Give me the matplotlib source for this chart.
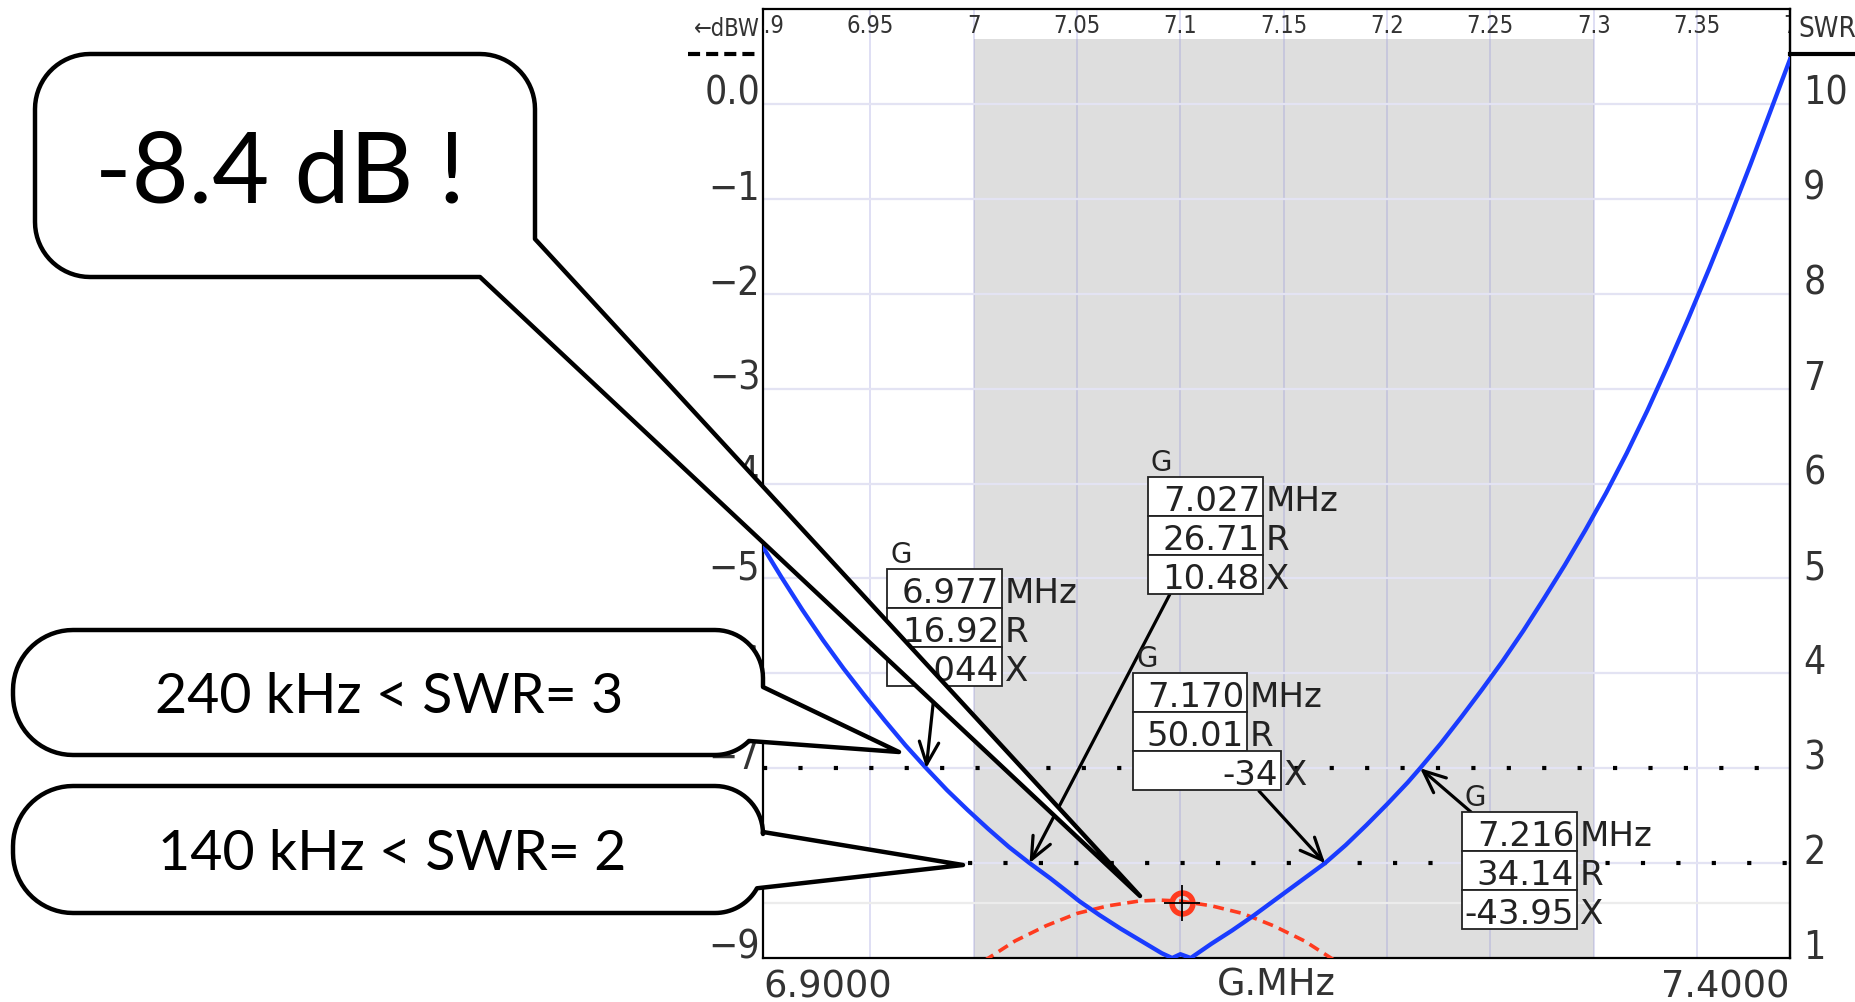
import matplotlib
matplotlib.use("Agg")
import matplotlib.pyplot as plt
import matplotlib.transforms as mtransforms
from matplotlib.patches import Polygon, Rectangle
from matplotlib.lines import Line2D
import numpy as np

W, H = 1855, 1003

plt.rcParams["font.family"] = ["DejaVu Sans"]
plt.rcParams["font.stretch"] = "condensed"   # used when a condensed cut is installed

# ── Data ────────────────────────────────────────────────────────────────────
# SWR curve (right axis)
swr_freq = [6.898, 6.907, 6.917, 6.927, 6.937, 6.947, 6.957, 6.967, 6.977, 6.987,
            6.997, 7.007, 7.017, 7.027, 7.037, 7.047, 7.051, 7.061, 7.071, 7.081,
            7.091, 7.096, 7.100, 7.105, 7.115, 7.125, 7.135, 7.145, 7.155, 7.165,
            7.170, 7.180, 7.190, 7.200, 7.210, 7.216, 7.226, 7.236, 7.246, 7.256,
            7.266, 7.276, 7.286, 7.296, 7.306, 7.316, 7.326, 7.336, 7.346, 7.356,
            7.366, 7.376, 7.386, 7.395]
swr_vals = [5.33, 5.01, 4.67, 4.35, 4.05, 3.77, 3.50, 3.24, 3.00, 2.77,
            2.56, 2.36, 2.17, 2.00, 1.84, 1.67, 1.60, 1.45, 1.31, 1.18,
            1.05, 1.00, 1.04, 1.00, 1.15, 1.29, 1.44, 1.60, 1.76, 1.92,
            2.00, 2.19, 2.40, 2.62, 2.85, 3.00, 3.26, 3.54, 3.83, 4.13,
            4.45, 4.79, 5.14, 5.51, 5.90, 6.32, 6.77, 7.25, 7.75, 8.27,
            8.81, 9.37, 9.95, 10.47]

# gain curve in dBW (left axis)
gain_freq = [7.005, 7.020, 7.035, 7.050, 7.065, 7.080, 7.090, 7.100, 7.115, 7.130,
             7.145, 7.160, 7.175]
gain_dbw = [-9.03, -8.82, -8.66, -8.53, -8.45, -8.40, -8.39, -8.40, -8.45, -8.53,
            -8.66, -8.82, -9.03]
peak_freq, peak_dbw = 7.101, -8.42

x_lo, x_hi = 6.898, 7.395
band = (7.0, 7.3)
band_top = 0.68
grid_x = [6.95, 7.00, 7.05, 7.10, 7.15, 7.20, 7.25, 7.30, 7.35]
top_ticks = [6.90, 6.95, 7.00, 7.05, 7.10, 7.15, 7.20, 7.25, 7.30, 7.35, 7.40]
top_labels = ["6.9", "6.95", "7", "7.05", "7.1", "7.15", "7.2", "7.25", "7.3", "7.35", "7.4"]
db_ticks = [0, -1, -2, -3, -4, -5, -6, -7, -8, -9]
db_labels = ["0.0", "\u22121", "\u22122", "\u22123", "\u22124", "\u22125",
             "\u22126", "\u22127", "\u22128", "\u22129"]
swr_ticks = [1, 2, 3, 4, 5, 6, 7, 8, 9, 10]
swr_levels = [3, 2]
swr_level_start = [x_lo, 6.997]

# marker readouts
mk_freq = [6.977, 7.027, 7.170, 7.216]
mk_swr = [3, 2, 2, 3]
mk_r = ["16.92", "26.71", "50.01", "34.14"]
mk_x = ["8.044", "10.48", "-34", "-43.95"]

# callout texts
callouts = ["-8.4 dB !", "240 kHz < SWR= 3", "140 kHz < SWR= 2"]

# ── Layout (pixels, origin top-left) ────────────────────────────────────────
ax_l, ax_r, ax_t, ax_b = 763, 1790, 10, 959
box_left = [887, 1148, 1133, 1462]
box_right = [1002, 1263, 1247, 1577]
box_top = [570, 478, 674, 813]
x_row_right = [1002, 1263, 1281, 1577]
row_h = 39
arrow_from = [(935, 687), (1170, 595), (1259, 792), (1471, 813)]

fig = plt.figure(figsize=(W / 100, H / 100), dpi=100)
fig.patch.set_facecolor("white")
PX = mtransforms.Affine2D().scale(1 / W, -1 / H).translate(0, 1) + fig.transFigure

ax = fig.add_axes([ax_l / W, 1 - ax_b / H, (ax_r - ax_l) / W, (ax_b - ax_t) / H])
ax.set_xlim(x_lo, x_hi)
ax.set_ylim(-9, 1)
ax2 = ax.twinx()
ax2.set_ylim(1, 11)
ax2.set_xlim(x_lo, x_hi)

# band + grid
ax.axvspan(band[0], band[1], ymax=(band_top + 9) / 10, color="#dedede", lw=0, zorder=0.5)
for f in grid_x:
    ax.axvline(f, color=(0.55, 0.55, 0.85), alpha=0.3, lw=1.3, zorder=0.8)
for d in db_ticks[:-1]:
    ax.axhline(d, color="#e3e3f3", lw=1.6, zorder=0.9)
ax.axhline(peak_dbw, color="#ececec", lw=1.6, zorder=0.95)

# SWR reference levels
for lev, x0 in zip(swr_levels, swr_level_start):
    ax2.hlines(lev, x0, x_hi, colors="black", lw=3, linestyles=(0, (1, 7.5)), zorder=2)

# curves
ax.plot(gain_freq, gain_dbw, color="#ff3b1f", lw=2.6, ls=(0, (3, 1.8)), zorder=3)
ax.plot(peak_freq, peak_dbw, "o", ms=15, mfc="none", mec="#ff3b1f", mew=4, zorder=4)
ax.plot(peak_freq, peak_dbw, "+", ms=26, mec="black", mew=1.3, zorder=5)
ax2.plot(swr_freq, swr_vals, color="#1a3cff", lw=3.1, zorder=3)

# axes styling
for sp in ax.spines.values():
    sp.set_color("black")
    sp.set_linewidth(1.6)
for name in ["left", "top", "bottom"]:
    ax2.spines[name].set_visible(False)
ax2.spines["right"].set_linewidth(1.6)

ax.set_yticks(db_ticks, db_labels)
ax.tick_params(axis="y", length=0, pad=2, labelsize=28, labelcolor="#333333")
for lab in ax.get_yticklabels():
    lab.set_va("baseline")
ax2.set_yticks(swr_ticks, [str(s) for s in swr_ticks])
ax2.tick_params(axis="y", length=0, pad=9.5, labelsize=28, labelcolor="#333333")
for lab in ax2.get_yticklabels():
    lab.set_va("baseline")

ax.set_xticks([x_lo, x_hi], ["6.9000", "7.4000"])
ax.tick_params(axis="x", length=0, pad=7, labelsize=26.5, labelcolor="#333333")
xl = ax.get_xticklabels()
xl[0].set_ha("left")
xl[1].set_ha("right")
for lab in xl:
    lab.set_fontstretch("normal")
ax.set_xlabel("G.MHz", fontsize=26.5, color="#333333", fontstretch="normal")
ax.xaxis.label.set_va("baseline")
ax.xaxis.set_label_coords(0.5, (ax_b - 996) / (ax_b - ax_t))

for f, lab in zip(top_ticks, top_labels):
    ax.text(f, (ax_b - 33) / (ax_b - ax_t), lab, transform=ax.get_xaxis_transform(),
            ha="center", va="baseline", fontsize=17, color="#333333", clip_on=True)

# axis legends
fig.add_artist(Line2D([688, 760], [55, 55], transform=PX, color="black", lw=3,
                      ls=(0, (2.9, 1.45))))
fig.text(760, 36, "\u2190dBW", transform=PX, ha="right", va="baseline",
         fontsize=17, color="#333333")
fig.add_artist(Line2D([1790, 1855], [55, 55], transform=PX, color="black", lw=3))
fig.text(1798, 37, "SWR", transform=PX, ha="left", va="baseline",
         fontsize=20, color="#333333")

# marker readout boxes
for i in range(len(mk_freq)):
    vals = [f"{mk_freq[i]:.3f}", mk_r[i], mk_x[i]]
    units = ["MHz", "R", "X"]
    rights = [box_right[i], box_right[i], x_row_right[i]]
    for k in range(3):
        y0 = box_top[i] + k * row_h
        fig.add_artist(Rectangle((box_left[i], y0), rights[k] - box_left[i], row_h,
                                 transform=PX, facecolor="white", edgecolor="#222222",
                                 lw=1.3, zorder=5))
        fig.text(rights[k] - 3, y0 + 33, vals[k], transform=PX, ha="right",
                 va="baseline", fontsize=24.5, color="#222222", zorder=6,
                 fontstretch="normal")
        fig.text(rights[k] + 3, y0 + 33, units[k], transform=PX, ha="left",
                 va="baseline", fontsize=24.5, color="#222222", zorder=6,
                 fontstretch="normal")
    fig.text(box_left[i] + 3, box_top[i] - 7, "G", transform=PX, ha="left",
             va="baseline", fontsize=20, color="#222222", zorder=6,
             fontstretch="normal")
    ax2.annotate("", xy=(mk_freq[i], mk_swr[i]), xycoords="data",
                 xytext=arrow_from[i], textcoords=PX,
                 arrowprops=dict(arrowstyle="->,head_length=0.8,head_width=0.35",
                                 color="black", lw=2.3, shrinkA=0, shrinkB=0,
                                 mutation_scale=20))


# speech bubbles
def arc(cx, cy, r, a0, a1, n=18):
    t = np.radians(np.linspace(a0, a1, n))
    return list(zip(cx + r * np.cos(t), cy + r * np.sin(t)))


def bubble(x0, y0, x1, y1, rl, rr, in_y, tip, out_deg):
    v = arc(x0 + rl, y0 + rl, rl, 180, 270)
    v += arc(x1 - rr, y0 + rr, rr, 270, 360)
    v += [(x1, in_y), tip]
    v += arc(x1 - rr, y1 - rr, rr, out_deg, 90)
    v += arc(x0 + rl, y1 - rl, rl, 90, 180)
    return v


bubbles = [
    dict(box=(35, 55, 535, 278), rl=55, rr=55, in_y=240, tip=(1140, 897), out=90),
    dict(box=(13, 631, 763, 756), rl=60, rr=48, in_y=688, tip=(899, 753), out=45),
    dict(box=(13, 787, 763, 914), rl=60, rr=48, in_y=833, tip=(963, 866), out=29),
]
text_pos = [(280, 203, 71), (389, 713, 40), (392, 870, 40)]

for b, txt, (tx, ty, fs) in zip(bubbles, callouts, text_pos):
    x0, y0, x1, y1 = b["box"]
    verts = bubble(x0, y0, x1, y1, b["rl"], b["rr"], b["in_y"], b["tip"], b["out"])
    fig.add_artist(Polygon(verts, closed=True, transform=PX, facecolor="white",
                           edgecolor="black", lw=3.2, joinstyle="round", zorder=10))
    fig.text(tx, ty, txt, transform=PX, ha="center", va="baseline", fontsize=fs,
             family="Lato", stretch="normal", color="black", zorder=11)

fig.savefig("out.png", dpi=100)
plt.close(fig)
